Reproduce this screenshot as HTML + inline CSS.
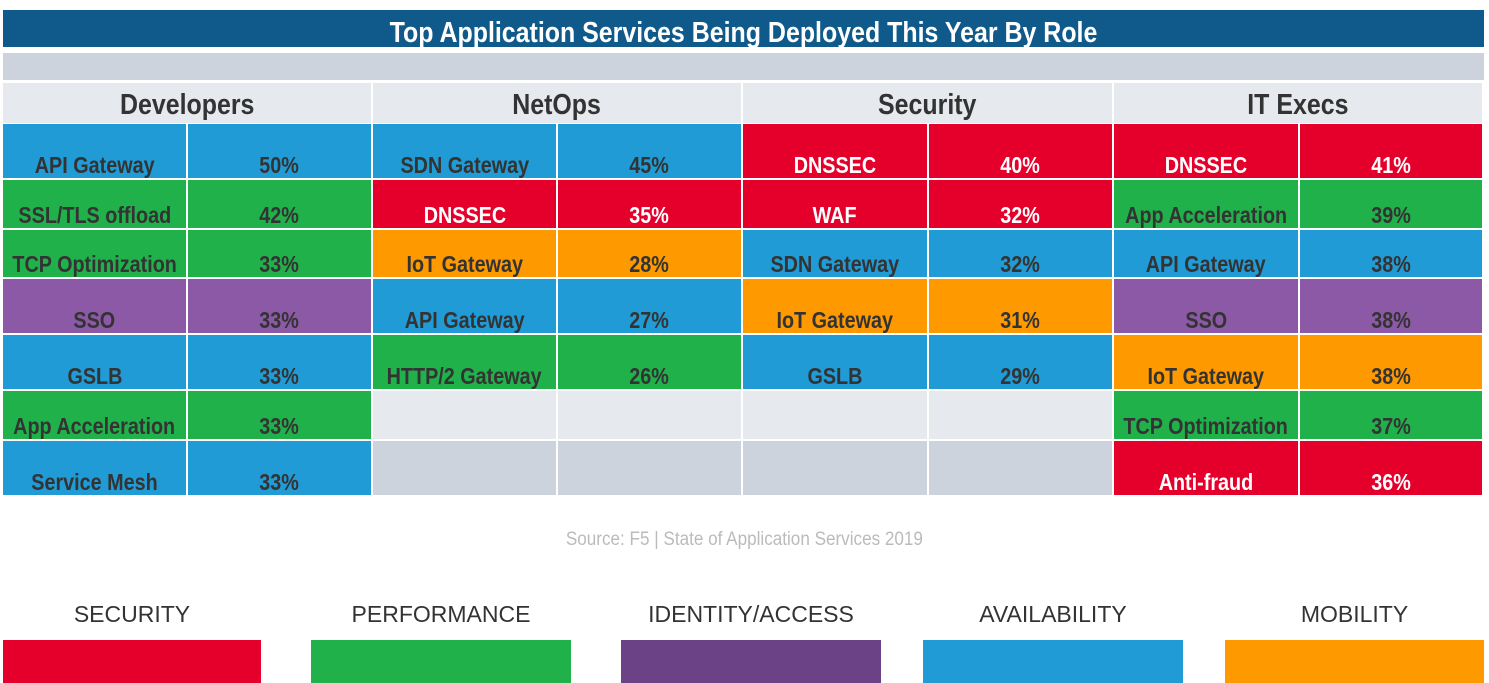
<!DOCTYPE html>
<html><head><meta charset="utf-8"><style>
body{margin:0;width:1489px;height:683px;background:#fff;position:relative;overflow:hidden;font-family:"Liberation Sans",Arial,sans-serif}
.a{position:absolute;box-sizing:border-box}
.t{display:flex;align-items:flex-end;justify-content:center;font-weight:bold;font-size:23px;color:#333;padding-bottom:0px;line-height:26px;white-space:nowrap}
.t span{display:inline-block;transform:scaleX(0.86)}
.lg{font-size:23px;color:#333;text-align:center}
</style></head><body>
<div class="a" style="left:3px;top:10px;width:1481px;height:37px;background:#0f5a8a;color:#fff;font-weight:bold;font-size:29px;text-align:center;line-height:46px"><span style="display:inline-block;transform:scaleX(0.86)">Top Application Services Being Deployed This Year By Role</span></div>
<div class="a" style="left:3px;top:53px;width:1481px;height:27px;background:#cdd3dc"></div>
<div id="tbl"></div>
<div class="a" style="left:0;top:529px;width:1489px;text-align:center;color:#bbb;font-size:19px"><span style="display:inline-block;transform:scaleX(0.9)">Source: F5 | State of Application Services 2019</span></div>
<div id="legend"></div>
<script>
const roles=["Developers","NetOps","Security","IT Execs"];
const services=[
["API Gateway","SSL/TLS offload","TCP Optimization","SSO","GSLB","App Acceleration","Service Mesh"],
["SDN Gateway","DNSSEC","IoT Gateway","API Gateway","HTTP/2 Gateway"],
["DNSSEC","WAF","SDN Gateway","IoT Gateway","GSLB"],
["DNSSEC","App Acceleration","API Gateway","SSO","IoT Gateway","TCP Optimization","Anti-fraud"]];
const values=[[50,42,33,33,33,33,33],[45,35,28,27,26],[40,32,32,31,29],[41,39,38,38,38,37,36]];
const cats=[["av","pe","pe","id","av","pe","av"],["av","se","mo","av","pe"],["se","se","av","mo","av"],["se","pe","av","id","mo","pe","se"]];
const catColors={se:"#e4002b",pe:"#21b14b",id:"#8c59a6",av:"#209bd5",mo:"#fe9900"};
const legendLabels=["SECURITY","PERFORMANCE","IDENTITY/ACCESS","AVAILABILITY","MOBILITY"];
const legendKeys=["se","pe","id","av","mo"];
const legendColors={se:"#e4002b",pe:"#21b14b",id:"#6b4285",av:"#209bd5",mo:"#fe9900"};
const rowTops=[124,180,230,279,335,391,441,497];
const colX=[3,188,373,558,743,929,1114,1300,1484];
const tbl=document.getElementById('tbl');
function mk(l,t,w,h,bg,txt,col){const d=document.createElement('div');d.className='a t';d.style.cssText=`left:${l}px;top:${t}px;width:${w}px;height:${h}px;background:${bg};color:${col||'#333'}`;if(txt!==undefined){const s=document.createElement('span');s.textContent=txt;d.appendChild(s);}tbl.appendChild(d);return d;}
roles.forEach((r,i)=>{const x=colX[i*2],w=colX[i*2+2]-x-2;const d=mk(x,83,w,40,'#e6e9ee',r);d.style.fontSize='29px';d.style.alignItems='center';d.style.paddingTop='4px';

});
roles.forEach((r,i)=>{for(let j=0;j<7;j++){const y=rowTops[j],h=rowTops[j+1]-y-2;const x1=colX[i*2],x2=colX[i*2+1],x3=colX[i*2+2];
if(j<services[i].length){const bg=catColors[cats[i][j]];const fc=cats[i][j]==='se'?'#fff':'#333';
const a=mk(x1,y,x2-x1-2,h,bg,services[i][j],fc);


const b=mk(x2,y,x3-x2-2,h,bg,values[i][j]+'%',fc);

}
else{const bg=j===5?'#e6e9ee':'#cdd3dc';const a=mk(x1,y,x2-x1-2,h,bg);


const b=mk(x2,y,x3-x2-2,h,bg);

}}});
const lgX=[3,311,621,923,1225],lgW=[258,260,260,260,259];
const lg=document.getElementById('legend');
legendLabels.forEach((l,i)=>{const t=document.createElement('div');t.className='a lg';t.style.cssText=`left:${lgX[i]-40}px;top:601px;width:${lgW[i]+80}px`;t.textContent=l;


lg.appendChild(t);
const s=document.createElement('div');s.className='a';s.style.cssText=`left:${lgX[i]}px;top:640px;width:${lgW[i]}px;height:43px;background:${legendColors[legendKeys[i]]}`;


lg.appendChild(s);});
</script>
</body></html>
